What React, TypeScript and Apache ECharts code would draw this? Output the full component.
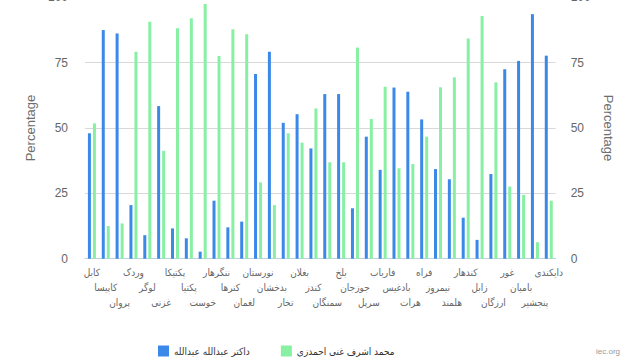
import React, { useEffect, useRef } from 'react';
import * as echarts from 'echarts';

const provinces = [
  'کابل', 'کاپیسا', 'پروان', 'وردک', 'لوگر', 'غزنی', 'پکتیکا', 'پکتیا', 'خوست',
  'ننگرهار', 'کنرها', 'لغمان', 'نورستان', 'بدخشان', 'تخار', 'بغلان', 'کندز',
  'سمنگان', 'بلخ', 'جوزجان', 'سرپل', 'فاریاب', 'بادغیس', 'هرات', 'فراه',
  'نیمروز', 'هلمند', 'کندهار', 'زابل', 'ارزگان', 'غور', 'بامیان', 'پنجشیر', 'دایکندی',
];

const abdullah = [
  48, 87.5, 86.2, 20.5, 9, 58.4, 11.6, 7.8, 2.7,
  22.2, 12, 14.2, 70.7, 79.2, 52, 55.3, 42.2,
  63, 63, 19.3, 46.7, 34, 65.5, 63.9, 53.3,
  34.3, 30.4, 15.7, 7.2, 32.4, 72.5, 75.7, 93.6, 77.7,
];

const ghani = [
  51.8, 12.5, 13.5, 79.2, 90.7, 41.3, 88.2, 92, 97.5,
  77.6, 87.8, 85.9, 29.2, 20.5, 48, 44.4, 57.5,
  36.9, 36.9, 80.8, 53.5, 65.8, 34.6, 36.2, 46.7,
  65.6, 69.4, 84.3, 92.9, 67.5, 27.6, 24.4, 6.3, 22.2,
];

const seriesNames = ['داکتر عبدالله عبدالله', 'محمد اشرف غنی احمدزی'];
const yMin = 0;
const yMax = 100;
const yStep = 25;
const axisTitle = 'Percentage';
const watermark = 'iec.org';

// the chart's box starts 10px above the page so that the top of the plot can be cut off
const SHIFT = 10;

export default function App() {
  const ref = useRef<HTMLDivElement>(null);
  useEffect(() => {
    const chart = echarts.init(ref.current!, null, { renderer: 'svg' });
    const yLabel = { color: '#666666', fontSize: 12, fontFamily: 'Liberation Sans, Arial, sans-serif' };
    const arabicFont = 'DejaVu Sans Condensed, DejaVu Sans, sans-serif';
    chart.setOption({
      animation: false,
      color: ['#3a88e8', '#87f0a3'],
      grid: { left: 85, right: 84.3, top: SHIFT - 2.6, height: 261.3, containLabel: false },
      legend: {
        bottom: 3.5,
        left: 158,
        padding: 0,
        itemWidth: 11,
        itemHeight: 11,
        itemGap: 31,
        icon: 'rect',
        textStyle: { color: '#333333', fontSize: 10, fontFamily: arabicFont },
        data: seriesNames,
      },
      xAxis: {
        type: 'category',
        data: provinces,
        axisLine: { lineStyle: { color: '#C0D0E0', width: 1 } },
        axisTick: { length: 8, lineStyle: { color: '#C0D0E0' } },
        axisLabel: {
          interval: 0,
          margin: 6,
          color: '#666666',
          fontSize: 10,
          lineHeight: 15,
          fontFamily: arabicFont,
          formatter: (v: string, i: number) => '\n'.repeat(i % 3) + v,
        },
      },
      yAxis: [
        {
          type: 'value',
          min: yMin,
          max: yMax,
          interval: yStep,
          name: axisTitle,
          nameLocation: 'middle',
          nameGap: 46,
          nameTextStyle: { color: '#6d6d6d', fontSize: 13, fontFamily: 'Liberation Sans, Arial, sans-serif' },
          axisLine: { show: false },
          axisTick: { show: false },
          axisLabel: { ...yLabel, margin: 17 },
          splitLine: { lineStyle: { color: '#D8D8D8', width: 1 } },
        },
        {
          type: 'value',
          min: yMin,
          max: yMax,
          interval: yStep,
          position: 'right',
          name: axisTitle,
          nameLocation: 'middle',
          nameGap: 44,
          nameRotate: -90,
          nameTextStyle: { color: '#6d6d6d', fontSize: 13, fontFamily: 'Liberation Sans, Arial, sans-serif' },
          axisLine: { show: false },
          axisTick: { show: false },
          axisLabel: { ...yLabel, margin: 15 },
          splitLine: { show: false },
        },
      ],
      series: [
        {
          name: seriesNames[0],
          type: 'bar',
          data: abdullah,
          barWidth: 3,
          barGap: '67%',
          yAxisIndex: 0,
        },
        {
          name: seriesNames[1],
          type: 'bar',
          data: ghani,
          barWidth: 3,
          barGap: '67%',
          yAxisIndex: 0,
        },
      ],
      graphic: [
        {
          type: 'text',
          left: 596,
          top: SHIFT + 347,
          style: { text: watermark, fill: '#999999', fontSize: 8, fontFamily: 'Liberation Sans, Arial, sans-serif' },
        },
      ],
    });
    return () => chart.dispose();
  }, []);
  return (
    <div
      ref={ref}
      style={{ width: 640, height: 360 + SHIFT, position: 'absolute', left: 0, top: -SHIFT }}
    />
  );
}
